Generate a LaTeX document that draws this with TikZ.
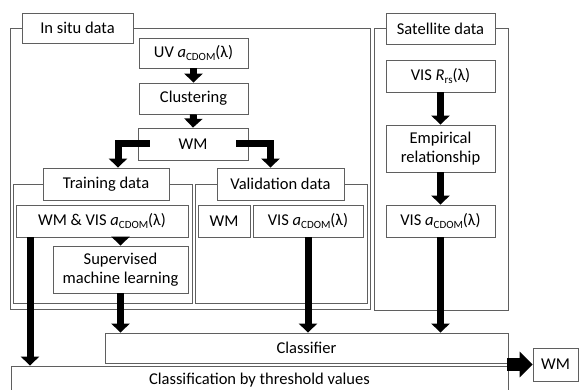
\documentclass[tikz,border=0pt]{standalone}
\usepackage{fontspec}
\setmainfont{Carlito}
\usetikzlibrary{arrows.meta,calc}
\definecolor{linegray}{RGB}{95,95,95}
\newcommand\mysubs[1]{\raisebox{-0.35ex}{\fontsize{11}{12}\selectfont #1}}
\newcommand\acdom{\textit{a}\mysubs{CDOM}(λ)}
\newcommand\rrs{\textit{R}\mysubs{rs}(λ)}
\newcommand\mybox[7][]{\node[box,#1,minimum width={(#5-#3)*1pt},minimum height={(#6-#4)*1pt}] (#2) at ({(#3+#5)/2},{(#4+#6)/2}) {#7};}
\tikzset{
  box/.style={draw=linegray,line width=0.8pt,fill=white,inner sep=0pt,align=center,font=\fontsize{16.5}{19.5}\selectfont},
  frame/.style={draw=linegray,line width=0.8pt},
  arr/.style={line width=7pt,-{Triangle[width=18pt,length=9pt]}},
  bigarr/.style={line width=13pt,-{Triangle[width=25pt,length=13pt]}}
}
\begin{document}
\begin{tikzpicture}[x=1pt,y=-1pt]
\useasboundingbox (0,0) rectangle (579,390);
% frames
\draw[frame] (10,28) rectangle (370,309);
\draw[frame] (13,184) rectangle (192,303);
\draw[frame] (195,184) rectangle (367,303);
\draw[frame] (374,28) rectangle (508,310);
% in situ
\mybox{insitu}{22}{13}{133}{43}{In situ data}
\mybox{uv}{139}{38}{248}{68}{UV \acdom}
\mybox{clus}{139}{83}{248}{114}{Clustering}
\mybox{wma}{138}{128}{248}{160}{WM}
\mybox{trt}{43}{168}{169}{200}{Training data}
\mybox{vat}{217}{168}{344}{200}{Validation data}
\mybox{wmvis}{16}{205}{188}{237}{WM \& VIS \acdom}
\mybox{sml}{53}{246}{188}{293}{Supervised\\machine learning}
\mybox{vwm}{198}{205}{250}{237}{WM}
\mybox{vvis}{253}{205}{363}{237}{VIS \acdom}
% satellite
\mybox{sat}{386}{13}{495}{44}{Satellite data}
\mybox{rrs}{386}{60}{495}{92}{VIS \rrs}
\mybox{emp}{386}{125}{495}{172}{Empirical\\relationship}
\mybox{svis}{386}{205}{495}{237}{VIS \acdom}
% bottom
\mybox{thr}{11}{366}{508}{395}{Classification by threshold values}
\mybox{cls}{105}{333}{508}{363}{Classifier}
\mybox{wmout}{533}{348}{578}{381}{WM}
% arrows
\draw[arr] (uv.south) -- (clus.north);
\draw[arr] (clus.south) -- (wma.north);
\draw[arr] ([xshift=12pt]wma.west) -| ([xshift=12pt]trt.north);
\draw[arr] ([xshift=-12pt]wma.east) -| ([xshift=-10pt]vat.north);
\draw[arr] (sml.north |- wmvis.south) -- (sml.north);
\draw[arr] ([xshift=-72pt]wmvis.south) -- ([xshift=-72pt]wmvis.south |- thr.north);
\draw[arr] (sml.south) -- (sml.south |- cls.north);
\draw[arr] (vvis.south) -- (vvis.south |- cls.north);
\draw[arr] (rrs.south) -- (emp.north);
\draw[arr] (emp.south) -- (svis.north);
\draw[arr] (svis.south) -- (svis.south |- cls.north);
\draw[bigarr] ([xshift=-1pt]wmout.west -| cls.east) -- (wmout.west);
\end{tikzpicture}
\end{document}
